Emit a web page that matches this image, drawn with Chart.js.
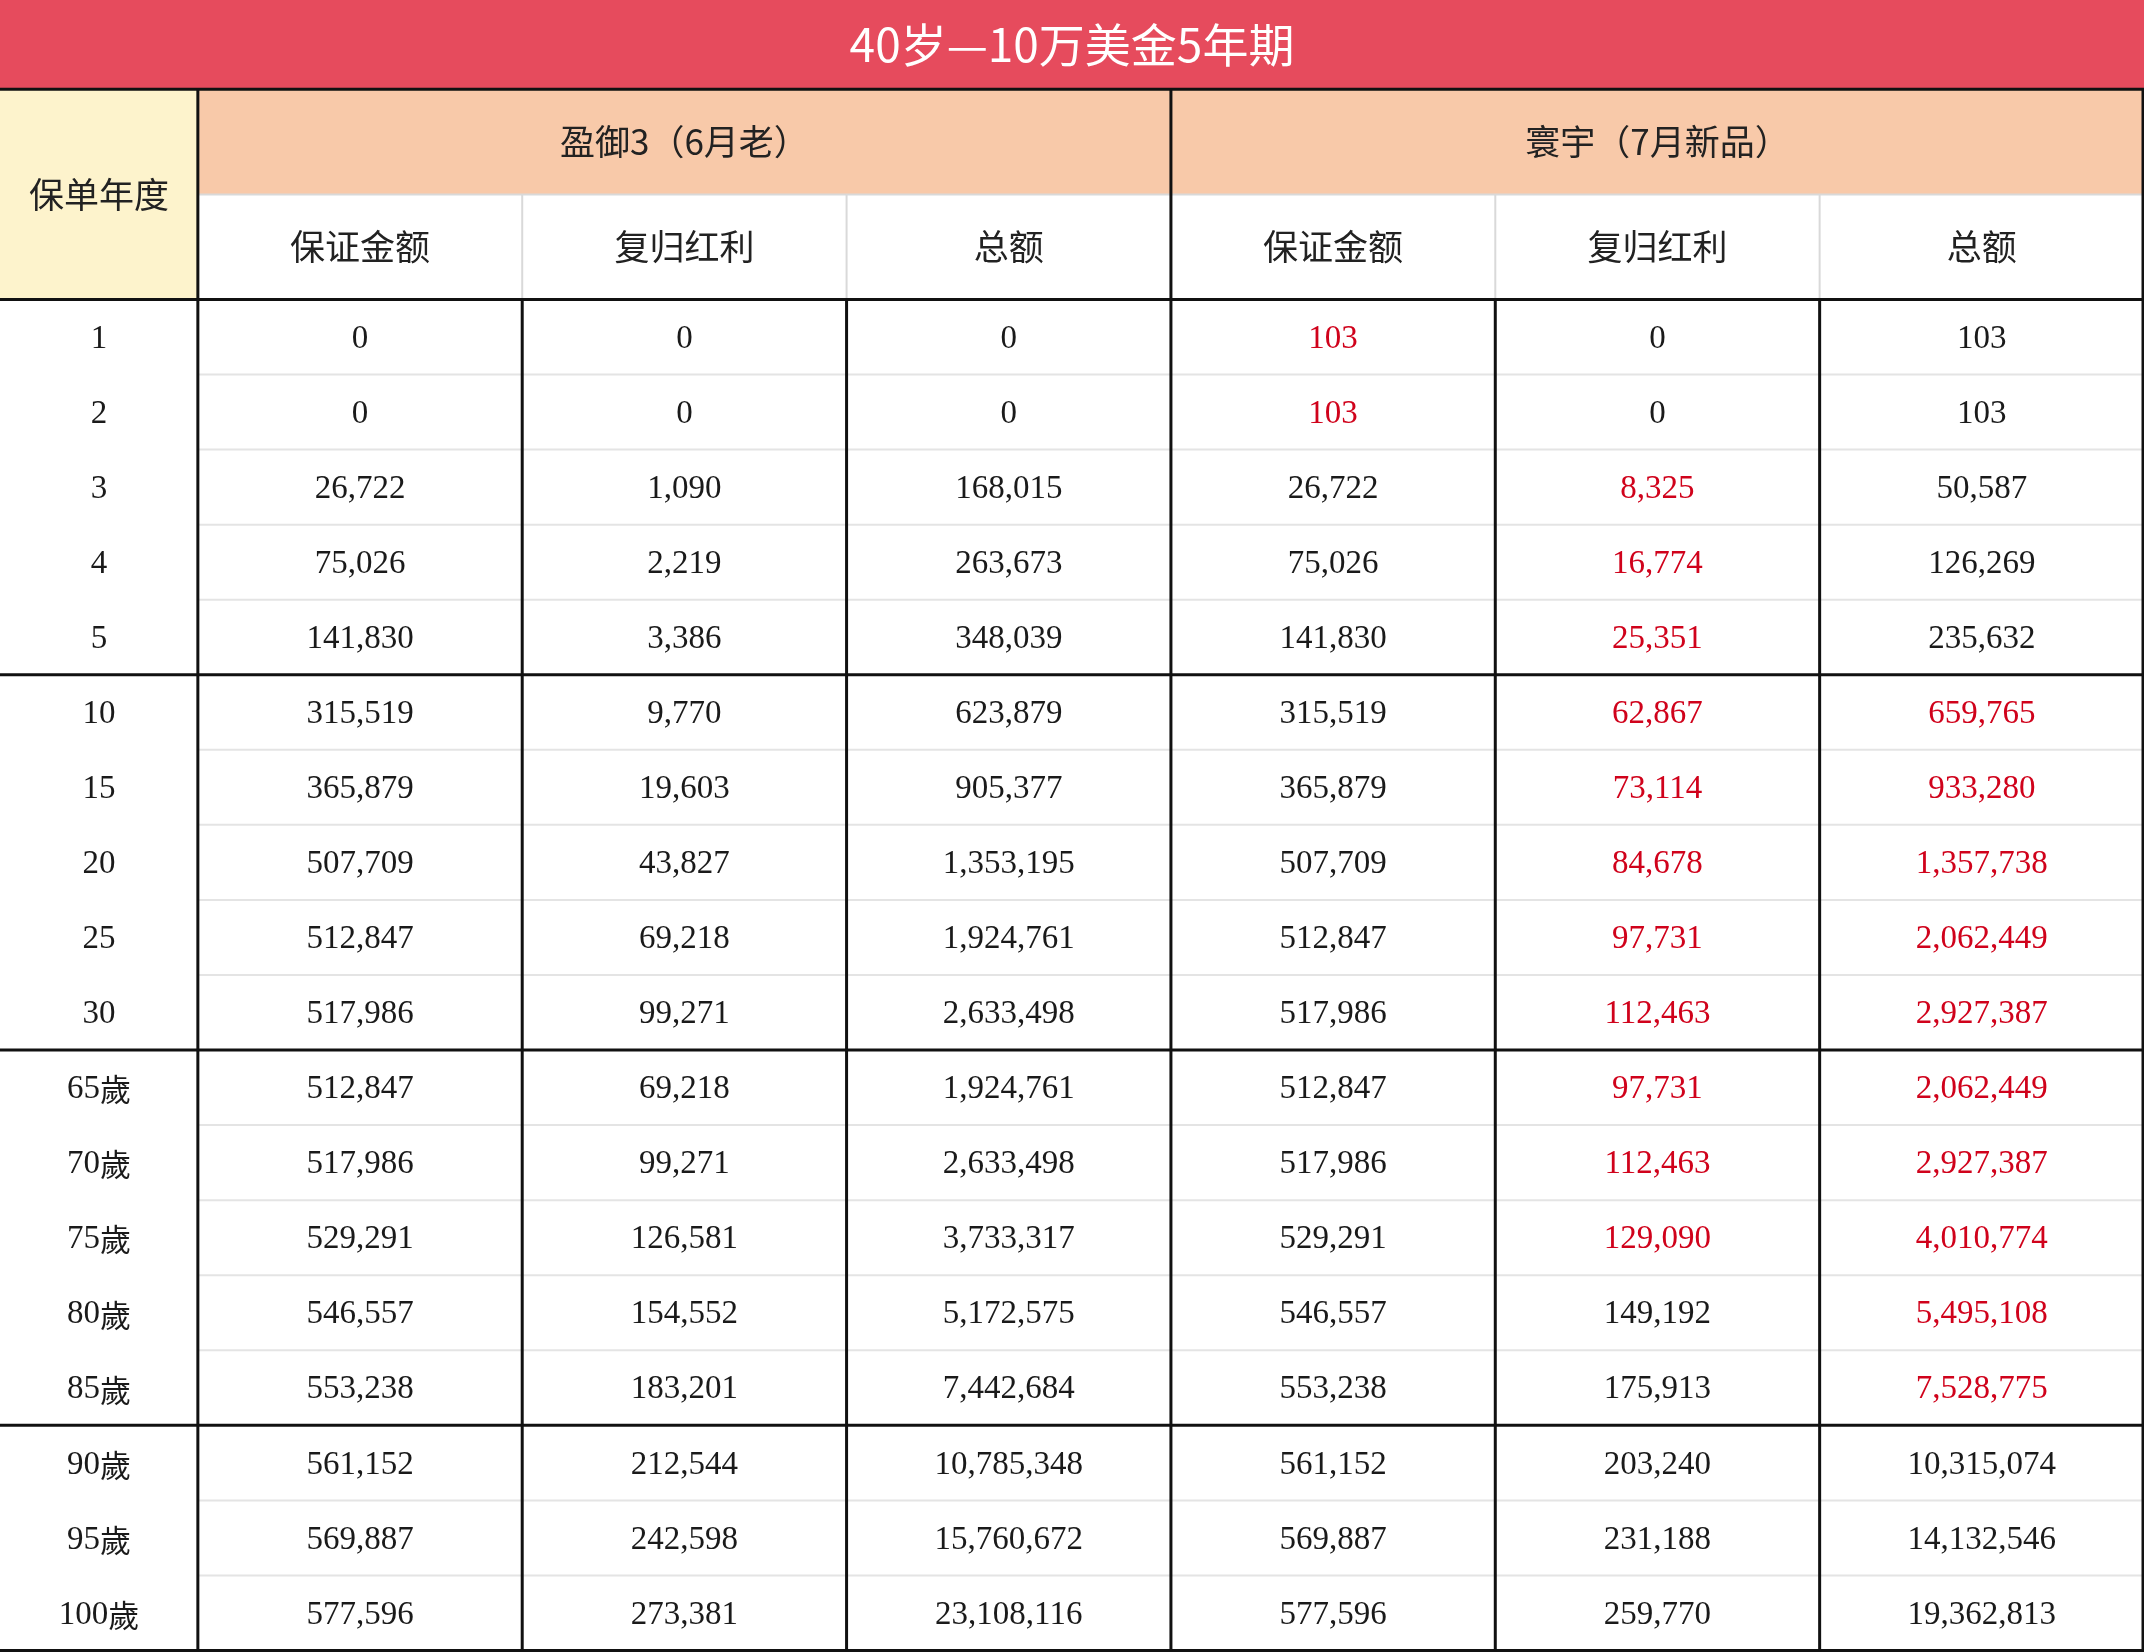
<!DOCTYPE html>
<html><head><meta charset="utf-8">
<script src="https://cdn.jsdelivr.net/npm/chart.js@4"></script>
<style>html,body{margin:0;padding:0;background:#fff}#w{width:2144px;height:1652px}</style>
</head><body><div id="w"><canvas id="c"></canvas></div>
<script>
const title = "40岁—10万美金5年期";
const rowHeader = "保单年度";
const groups = ["盈御3（6月老）", "寰宇（7月新品）"];
const subHeaders = ["保证金额", "复归红利", "总额"];
const years = ["1","2","3","4","5","10","15","20","25","30","65歲","70歲","75歲","80歲","85歲","90歲","95歲","100歲"];
const yuGuaranteed = ["0","0","26,722","75,026","141,830","315,519","365,879","507,709","512,847","517,986","512,847","517,986","529,291","546,557","553,238","561,152","569,887","577,596"];
const yuBonus = ["0","0","1,090","2,219","3,386","9,770","19,603","43,827","69,218","99,271","69,218","99,271","126,581","154,552","183,201","212,544","242,598","273,381"];
const yuTotal = ["0","0","168,015","263,673","348,039","623,879","905,377","1,353,195","1,924,761","2,633,498","1,924,761","2,633,498","3,733,317","5,172,575","7,442,684","10,785,348","15,760,672","23,108,116"];
const hyGuaranteed = ["103","103","26,722","75,026","141,830","315,519","365,879","507,709","512,847","517,986","512,847","517,986","529,291","546,557","553,238","561,152","569,887","577,596"];
const hyBonus = ["0","0","8,325","16,774","25,351","62,867","73,114","84,678","97,731","112,463","97,731","112,463","129,090","149,192","175,913","203,240","231,188","259,770"];
const hyTotal = ["103","103","50,587","126,269","235,632","659,765","933,280","1,357,738","2,062,449","2,927,387","2,062,449","2,927,387","4,010,774","5,495,108","7,528,775","10,315,074","14,132,546","19,362,813"];
const columns = [years, yuGuaranteed, yuBonus, yuTotal, hyGuaranteed, hyBonus, hyTotal];
// highlighted (red) row ranges per column index: [fromRow, toRow]
const redRanges = {4:[0,1], 5:[2,12], 6:[5,14]};

const colEdges = [0,0.61,1.61,2.61,3.61,4.61,5.61,6.61];
const TITLE_H = 1.19, HDR_H = 1.4;
const rowTop = i => TITLE_H + 2*HDR_H + i;

const tablePlugin = {
  id:'table',
  afterDraw(chart){
    const ctx = chart.ctx, xs = chart.scales.x, ys = chart.scales.y;
    const X = v => xs.getPixelForValue(v), Y = v => ys.getPixelForValue(v);
    const L = X(0), R = X(colEdges[7]);
    ctx.save();
    // title
    ctx.fillStyle = '#e64b5d';
    ctx.fillRect(L, Y(0), R-L, Y(TITLE_H)-Y(0));
    ctx.fillStyle = '#fff'; ctx.textAlign='center'; ctx.textBaseline='middle';
    ctx.font = '46px "Noto Sans CJK SC"';
    ctx.fillText(title, (L+R)/2, (Y(0)+Y(TITLE_H))/2);
    // header backgrounds
    ctx.fillStyle = '#fdf3cc';
    ctx.fillRect(X(0), Y(TITLE_H), X(colEdges[1])-X(0), Y(TITLE_H+2*HDR_H)-Y(TITLE_H));
    ctx.fillStyle = '#f8c9a9';
    ctx.fillRect(X(colEdges[1]), Y(TITLE_H), R-X(colEdges[1]), Y(TITLE_H+HDR_H)-Y(TITLE_H));
    ctx.fillStyle = '#222';
    ctx.font = '35px "Noto Sans CJK SC"';
    ctx.fillText(rowHeader, (X(0)+X(colEdges[1]))/2, Y(TITLE_H+HDR_H));
    groups.forEach((g,gi)=>{
      ctx.fillText(g, (X(colEdges[1+3*gi])+X(colEdges[4+3*gi]))/2, Y(TITLE_H+HDR_H/2));
      subHeaders.forEach((s,si)=>{
        const c = 1+3*gi+si;
        ctx.fillText(s, (X(colEdges[c])+X(colEdges[c+1]))/2, Y(TITLE_H+1.5*HDR_H));
      });
    });
    // thin lines
    ctx.strokeStyle = '#d9d9d9'; ctx.lineWidth = 2;
    const line=(x1,y1,x2,y2)=>{ctx.beginPath();ctx.moveTo(x1,y1);ctx.lineTo(x2,y2);ctx.stroke();};
    line(X(colEdges[1]), Y(TITLE_H+HDR_H), R, Y(TITLE_H+HDR_H));
    for(let c=2;c<7;c++) if(c!==4) line(X(colEdges[c]), Y(TITLE_H+HDR_H), X(colEdges[c]), Y(TITLE_H+2*HDR_H));
    ctx.strokeStyle = '#e4e4e4';
    for(let i=1;i<years.length;i++) if(i%5!==0) line(X(colEdges[1]), Y(rowTop(i)), R, Y(rowTop(i)));
    // data
    columns.forEach((col,c)=>{
      const cx = (X(colEdges[c])+X(colEdges[c+1]))/2;
      col.forEach((v,i)=>{
        const rr = redRanges[c];
        ctx.fillStyle = rr && i>=rr[0] && i<=rr[1] ? '#d0021b' : '#1a1a1a';
        const cy = (Y(rowTop(i))+Y(rowTop(i+1)))/2 + 2;
        if(c===0 && /歲$/.test(v)){
          ctx.font = '33px "Liberation Serif"';
          const num = v.slice(0,-1);
          ctx.font = '33px "Liberation Serif"'; const w1 = ctx.measureText(num).width;
          ctx.font = '31px "Noto Sans CJK SC"'; const w2 = ctx.measureText('歲').width;
          const sx = cx-(w1+w2)/2;
          ctx.textAlign='left';
          ctx.font = '33px "Liberation Serif"'; ctx.fillText(num, sx, cy);
          ctx.font = '31px "Noto Sans CJK SC"'; ctx.fillText('歲', sx+w1, cy);
          ctx.textAlign='center';
        } else {
          ctx.font = '33px "Liberation Serif"';
          ctx.fillText(v, cx, cy);
        }
      });
    });
    // thick lines
    ctx.strokeStyle = '#111'; ctx.lineWidth = 3;
    line(L, Y(TITLE_H), R, Y(TITLE_H));
    [0,5,10,15,18].forEach(i=>line(L, Y(rowTop(i)), R, Y(rowTop(i))));
    line(X(colEdges[1]), Y(TITLE_H), X(colEdges[1]), Y(rowTop(18)));
    line(X(colEdges[4]), Y(TITLE_H), X(colEdges[4]), Y(rowTop(18)));
    line(R-1, Y(TITLE_H), R-1, Y(rowTop(18)));
    [2,3,5,6].forEach(c=>line(X(colEdges[c]), Y(rowTop(0)), X(colEdges[c]), Y(rowTop(18))));
    ctx.restore();
  }
};

new Chart(document.getElementById('c'), {
  type:'scatter',
  data:{datasets:[{data:[]}]},
  options:{
    responsive:true, maintainAspectRatio:false, animation:false,
    layout:{padding:0},
    plugins:{legend:{display:false}, tooltip:{enabled:false}},
    scales:{
      x:{type:'linear', display:false, min:0, max:colEdges[7]},
      y:{type:'linear', display:false, reverse:true, min:0, max:rowTop(years.length)+0.02}
    }
  },
  plugins:[tablePlugin]
});
</script></body></html>
